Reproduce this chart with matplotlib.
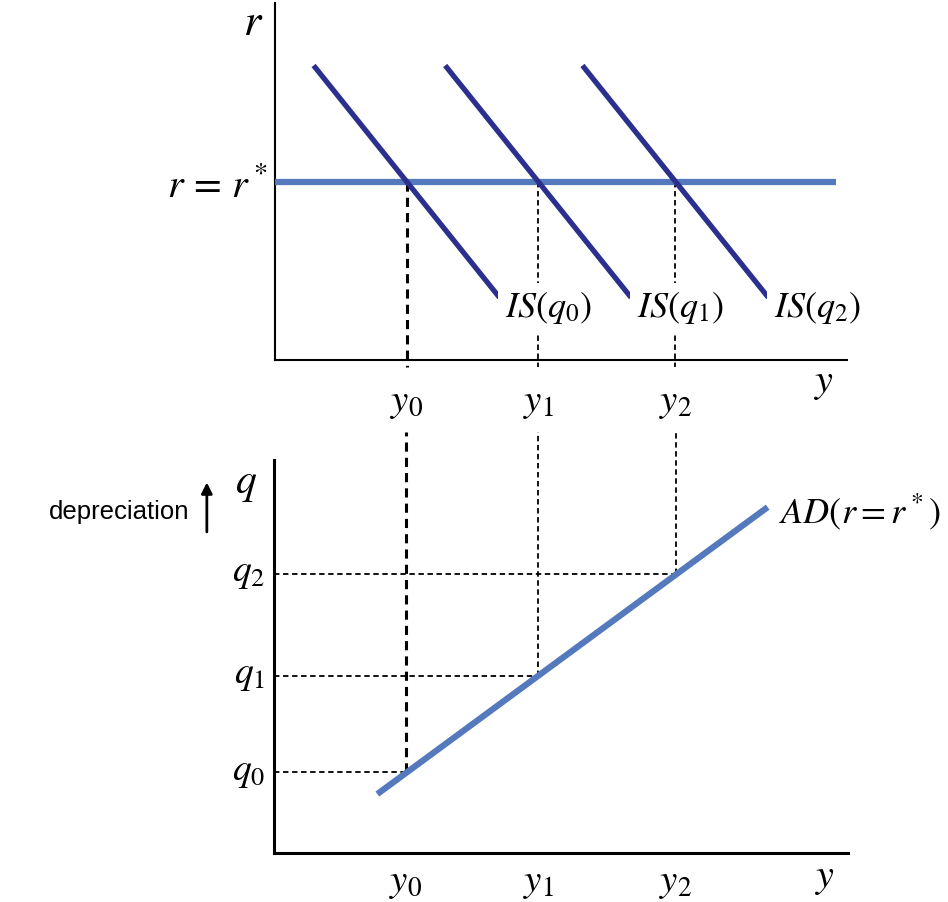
import matplotlib
matplotlib.use('Agg')
import matplotlib.pyplot as plt
import numpy as np

plt.rcParams['mathtext.fontset'] = 'stix'
plt.rcParams['font.family'] = 'Liberation Serif'

NAVY = '#2B2F8E'; STEEL = '#5479BC'; BLACK = '#000000'

# data (abstract units)
y_levels = [2.3, 4.6, 7.0]          # y0, y1, y2
r_star = 5.0
is_r_top, is_r_bot = 8.25, 1.75     # vertical extent of the IS curves
is_slope = 2.0                      # dr/dy magnitude of IS
q_levels = [2.05, 4.5, 7.1]         # q0, q1, q2
ad_y = [1.8, 8.6]
ad_q = [1.5, 8.8]
is_labels = [r'$IS(q_0)$', r'$IS(q_1)$', r'$IS(q_2)$']
y_ticklabels = [r'$y_0$', r'$y_1$', r'$y_2$']
q_ticklabels = [r'$q_0$', r'$q_1$', r'$q_2$']

W, H = 948, 902
fig = plt.figure(figsize=(W / 100, H / 100), dpi=100)

def px_axes(l, t, r, b):
    return fig.add_axes([l / W, 1 - b / H, (r - l) / W, (b - t) / H])

def clean(ax, lw):
    for s in ('top', 'right'):
        ax.spines[s].set_visible(False)
    for s in ('left', 'bottom'):
        ax.spines[s].set_linewidth(lw)
    ax.set_xticks([]); ax.set_yticks([])
    ax.set_xlim(0, 10); ax.set_ylim(0, 10)
    ax.patch.set_alpha(0)

dash = (0, (3, 2))
FS = 26

# ─── upper panel: IS curves and r = r* ────────────────────────────────────────
ax1 = px_axes(275, 3, 847, 360)
clean(ax1, 1.5)
ax1.plot([0, 9.8], [r_star, r_star], color=STEEL, lw=4.5, solid_capstyle='butt', zorder=3)
for yi, lab in zip(y_levels, is_labels):
    x_top = yi - (is_r_top - r_star) / is_slope
    x_bot = yi + (r_star - is_r_bot) / is_slope
    ax1.plot([x_top, x_bot], [is_r_top, is_r_bot], color=NAVY, lw=3.8,
             solid_capstyle='butt', zorder=4)
    ax1.text(x_bot + 0.1, is_r_bot - 0.3, lab, fontsize=FS, ha='left', va='center',
             zorder=5, bbox=dict(facecolor='white', edgecolor='none', pad=5))
for i, yi in enumerate(y_levels):
    ax1.plot([yi, yi], [r_star, -0.2], color=BLACK, lw=2.2 if i == 0 else 1.3,
             ls=dash, clip_on=False, zorder=2)
    ax1.text(yi, -1.2, y_ticklabels[i], fontsize=FS + 2, ha='center', va='center')
ax1.text(-0.2, 9.4, r'$r$', fontsize=32, ha='right', va='center')
ax1.text(-0.12, 4.85, r'$r\,=\,r^*$', fontsize=29, ha='right', va='center')
ax1.text(9.6, -0.65, r'$y$', fontsize=FS + 3, ha='center', va='center')

# ─── lower panel: AD schedule ─────────────────────────────────────────────────
ax2 = px_axes(274, 460, 848, 853)
clean(ax2, 2.2)
ax2.plot(ad_y, ad_q, color=STEEL, lw=4.5, solid_capstyle='butt', zorder=4)
for i, (yi, qi) in enumerate(zip(y_levels, q_levels)):
    lw = 2.2 if i == 0 else 1.3
    ax2.plot([yi, yi], [qi, 10.7], color=BLACK, lw=lw, ls=dash, clip_on=False, zorder=2)
    ax2.plot([0, yi], [qi, qi], color=BLACK, lw=1.3, ls=dash, zorder=2)
    ax2.text(-0.15, qi, q_ticklabels[i], fontsize=FS + 1, ha='right', va='center')
    ax2.text(yi, -0.74, y_ticklabels[i], fontsize=FS + 2, ha='center', va='center')
ax2.text(-0.3, 9.36, r'$q$', fontsize=30, ha='right', va='center')
ax2.text(9.6, -0.64, r'$y$', fontsize=FS + 3, ha='center', va='center')
ax2.text(8.8, 8.68, r'$AD(r=r^*)$', fontsize=FS, ha='left', va='center')
ax2.text(-1.47, 8.68, 'depreciation', fontsize=18.5, family='Liberation Sans',
         ha='right', va='center')
ax2.annotate('', xy=(-1.17, 9.5), xytext=(-1.17, 8.1), annotation_clip=False,
             arrowprops=dict(arrowstyle='-|>', color=BLACK, lw=2, mutation_scale=16))

fig.savefig('out.png', dpi=100, facecolor='white')
